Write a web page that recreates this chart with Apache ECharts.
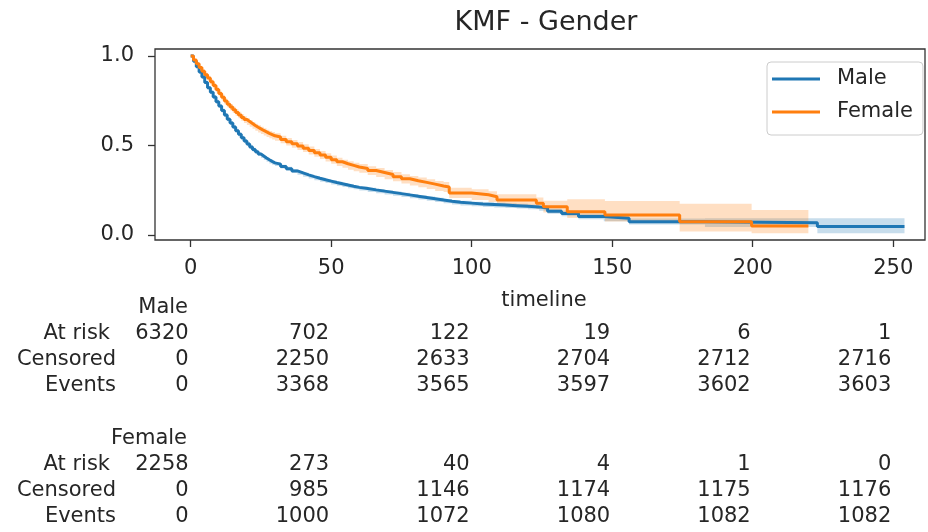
<!DOCTYPE html>
<html>
<head>
<meta charset="utf-8">
<script src="https://cdn.jsdelivr.net/npm/echarts@6/dist/echarts.min.js"></script>
<style>
  html, body { margin: 0; padding: 0; background: #fff; }
  #chart { width: 928px; height: 532px; }
</style>
</head>
<body>
<div id="chart"></div>
<script>
// KM estimates (steps-post)
var maleT  = [0, 1, 2, 3, 4, 5, 6, 7, 8, 9, 10, 11, 12, 13, 14, 15, 16, 17, 18, 19, 20, 21, 22, 23, 24, 25, 26, 27, 28, 29, 30,
              32, 34, 36, 38, 40, 42, 44, 46, 48, 50, 52, 54, 56, 58, 60, 63, 66, 69, 72, 75, 78, 81, 84, 87, 90, 93, 96, 100,
              104, 108, 112, 116, 120, 124, 127, 132, 138, 147, 156, 183, 223, 254];
var maleS  = [1, 0.970, 0.940, 0.910, 0.882, 0.852, 0.823, 0.797, 0.771, 0.745, 0.720, 0.695, 0.670, 0.647, 0.625, 0.603, 0.583, 0.563, 0.543, 0.525, 0.508, 0.492, 0.478, 0.465, 0.452, 0.441, 0.430, 0.420, 0.411, 0.403, 0.396,
              0.382, 0.370, 0.358, 0.347, 0.336, 0.326, 0.317, 0.309, 0.301, 0.293, 0.286, 0.279, 0.272, 0.266, 0.260, 0.252, 0.245, 0.238, 0.231, 0.224, 0.217, 0.210, 0.203, 0.196, 0.189, 0.183, 0.178, 0.173,
              0.170, 0.167, 0.164, 0.161, 0.157, 0.150, 0.132, 0.120, 0.103, 0.093, 0.074, 0.068, 0.047, 0.047];
var maleLo = [1, 0.963, 0.932, 0.901, 0.873, 0.842, 0.813, 0.787, 0.760, 0.734, 0.709, 0.684, 0.659, 0.636, 0.614, 0.592, 0.572, 0.552, 0.532, 0.514, 0.497, 0.481, 0.467, 0.454, 0.441, 0.430, 0.419, 0.409, 0.400, 0.392, 0.385,
              0.371, 0.359, 0.347, 0.336, 0.325, 0.315, 0.306, 0.298, 0.290, 0.282, 0.275, 0.268, 0.261, 0.255, 0.249, 0.240, 0.233, 0.226, 0.219, 0.212, 0.205, 0.198, 0.191, 0.184, 0.177, 0.170, 0.165, 0.160,
              0.157, 0.154, 0.151, 0.148, 0.144, 0.136, 0.118, 0.105, 0.088, 0.077, 0.058, 0.045, 0.010, 0.010];
var maleHi = [1, 0.977, 0.948, 0.919, 0.891, 0.862, 0.833, 0.807, 0.782, 0.756, 0.731, 0.706, 0.681, 0.658, 0.636, 0.614, 0.594, 0.574, 0.554, 0.536, 0.519, 0.503, 0.489, 0.476, 0.463, 0.452, 0.441, 0.431, 0.422, 0.414, 0.407,
              0.393, 0.381, 0.369, 0.358, 0.347, 0.337, 0.328, 0.320, 0.312, 0.304, 0.297, 0.290, 0.283, 0.277, 0.271, 0.264, 0.257, 0.250, 0.243, 0.236, 0.229, 0.222, 0.215, 0.208, 0.201, 0.196, 0.191, 0.186,
              0.183, 0.180, 0.177, 0.174, 0.170, 0.164, 0.146, 0.135, 0.118, 0.109, 0.092, 0.094, 0.093, 0.093];

var femaleT  = [0, 1, 2, 3, 4, 5, 6, 7, 8, 9, 10, 11, 12, 13, 14, 15, 16, 17, 18, 19, 20, 21, 22, 23, 24, 25, 26, 27, 28, 29, 30,
                32, 34, 36, 38, 40, 42, 44, 46, 48, 50, 52, 54, 56, 58, 60, 63, 66, 69, 72, 75, 78, 81, 84, 87, 90, 92, 100,
                106, 109, 123, 125.5, 134, 147.4, 174, 199.6, 219.8];
var femaleS  = [1, 0.978, 0.957, 0.936, 0.915, 0.895, 0.877, 0.856, 0.835, 0.813, 0.791, 0.769, 0.748, 0.731, 0.715, 0.699, 0.684, 0.670, 0.657, 0.645, 0.634, 0.623, 0.612, 0.602, 0.593, 0.584, 0.576, 0.568, 0.561, 0.554, 0.547,
                0.534, 0.521, 0.509, 0.497, 0.485, 0.472, 0.459, 0.447, 0.434, 0.421, 0.409, 0.398, 0.389, 0.380, 0.372, 0.360, 0.349, 0.338, 0.326, 0.314, 0.303, 0.294, 0.284, 0.274, 0.268, 0.235, 0.225,
                0.214, 0.196, 0.177, 0.158, 0.130, 0.112, 0.074, 0.050, 0.050];
var femaleLo = [1, 0.970, 0.947, 0.925, 0.903, 0.882, 0.863, 0.842, 0.820, 0.798, 0.775, 0.753, 0.731, 0.714, 0.697, 0.681, 0.666, 0.652, 0.638, 0.626, 0.615, 0.604, 0.593, 0.582, 0.573, 0.564, 0.556, 0.548, 0.540, 0.533, 0.526,
                0.513, 0.500, 0.487, 0.475, 0.463, 0.450, 0.437, 0.424, 0.411, 0.398, 0.386, 0.375, 0.365, 0.356, 0.348, 0.335, 0.324, 0.312, 0.300, 0.288, 0.276, 0.267, 0.257, 0.246, 0.240, 0.206, 0.196,
                0.184, 0.166, 0.146, 0.126, 0.095, 0.075, 0.020, 0.010, 0.010];
var femaleHi = [1, 0.985, 0.966, 0.946, 0.926, 0.907, 0.890, 0.870, 0.849, 0.828, 0.806, 0.785, 0.764, 0.748, 0.732, 0.717, 0.702, 0.688, 0.675, 0.664, 0.653, 0.642, 0.631, 0.621, 0.613, 0.604, 0.596, 0.588, 0.581, 0.575, 0.568,
                0.555, 0.542, 0.530, 0.519, 0.507, 0.494, 0.481, 0.469, 0.457, 0.444, 0.432, 0.421, 0.412, 0.404, 0.396, 0.384, 0.374, 0.363, 0.352, 0.340, 0.329, 0.321, 0.312, 0.302, 0.296, 0.264, 0.255,
                0.244, 0.227, 0.209, 0.191, 0.200, 0.190, 0.175, 0.140, 0.140];

// at-risk table
var tableTicks = [0, 50, 100, 150, 200, 250];
var maleAtRisk   = [6320, 702, 122, 19, 6, 1];
var maleCensored = [0, 2250, 2633, 2704, 2712, 2716];
var maleEvents   = [0, 3368, 3565, 3597, 3602, 3603];
var femaleAtRisk   = [2258, 273, 40, 4, 1, 0];
var femaleCensored = [0, 985, 1146, 1174, 1175, 1176];
var femaleEvents   = [0, 1000, 1072, 1080, 1082, 1082];

var xTicks = [0, 50, 100, 150, 200, 250];
var yTicks = [0, 0.5, 1.0];

var BLUE = '#1f77b4', ORANGE = '#ff7f0e';
var FONT = 'DejaVu Sans';
var TXT = '#262626';
var XMIN = -12.7, XMAX = 261.3;

var chart = echarts.init(document.getElementById('chart'));

function pairs(t, s) {
    var out = [];
    for (var i = 0; i < t.length; i++) out.push([t[i], s[i]]);
    return out;
}

function bandSeries(name, t, lo, hi, color) {
    return {
        name: name,
        type: 'custom',
        data: [[0, 1]],
        clip: true,
        silent: true,
        renderItem: function (params, api) {
            var top = [], bot = [];
            for (var i = 0; i < t.length - 1; i++) {
                top.push(api.coord([t[i], hi[i]]), api.coord([t[i + 1], hi[i]]));
                bot.push(api.coord([t[i], lo[i]]), api.coord([t[i + 1], lo[i]]));
            }
            return {
                type: 'polygon',
                shape: { points: top.concat(bot.reverse()) },
                style: { fill: color, opacity: 0.25 }
            };
        }
    };
}

function lineSeries(name, t, s, color) {
    return {
        name: name,
        type: 'line',
        step: 'end',
        data: pairs(t, s),
        symbol: 'none',
        showSymbol: false,
        lineStyle: { color: color, width: 3 },
        itemStyle: { color: color },
        animation: false
    };
}

function rowAxis(offset, vals) {
    return {
        type: 'value', min: XMIN, max: XMAX, position: 'bottom', offset: offset,
        axisLine: { show: false, onZero: false }, axisTick: { show: false }, splitLine: { show: false },
        axisLabel: {
            customValues: tableTicks,
            formatter: function (v) { return String(vals[tableTicks.indexOf(v)]); },
            align: 'right', verticalAlign: 'middle', margin: 0, padding: [0, 2, 0, 0],
            fontSize: 21, fontFamily: FONT, color: TXT
        }
    };
}

function txt(text, x, y, align, size) {
    return {
        type: 'text', x: x, y: y, silent: true,
        style: {
            text: text, fill: TXT, font: (size || 21) + 'px "' + FONT + '"',
            textAlign: align, align: align, textVerticalAlign: 'middle', verticalAlign: 'middle'
        }
    };
}

var option = {
    animation: false,
    grid: { left: 155, right: 3, top: 49, bottom: 292, show: true, borderColor: '#333', borderWidth: 1.3, backgroundColor: 'transparent' },
    legend: {
        data: [{ name: 'Male', icon: 'rect' }, { name: 'Female', icon: 'rect' }],
        orient: 'vertical', left: 767, top: 62,
        itemWidth: 48, itemHeight: 3, itemGap: 11,
        padding: [6, 10, 12, 5],
        borderColor: '#cccccc', borderWidth: 1, borderRadius: 4, backgroundColor: '#fff',
        textStyle: { fontSize: 21, fontFamily: FONT, color: TXT, lineHeight: 22, padding: [0, 0, 0, 12] }
    },
    xAxis: [{
        type: 'value', min: XMIN, max: XMAX,
        axisLine: { show: false, onZero: false },
        axisTick: { show: true, length: 7, customValues: xTicks, lineStyle: { color: '#333', width: 1.3 } },
        axisLabel: { customValues: xTicks, margin: 29, verticalAlign: 'middle', fontSize: 21, fontFamily: FONT, color: TXT },
        splitLine: { show: false }
    },
        rowAxis(94, maleAtRisk),
        rowAxis(120, maleCensored),
        rowAxis(145.5, maleEvents),
        rowAxis(225, femaleAtRisk),
        rowAxis(251, femaleCensored),
        rowAxis(277, femaleEvents)
    ],
    yAxis: {
        type: 'value', min: -0.028, max: 1.039,
        axisLine: { show: false, onZero: false },
        axisTick: { show: true, length: 7, customValues: yTicks, lineStyle: { color: '#333', width: 1.3 } },
        axisLabel: {
            customValues: yTicks, margin: 21, fontSize: 21, fontFamily: FONT, color: TXT,
            formatter: function (v) { return v.toFixed(1); }
        },
        splitLine: { show: false }
    },
    graphic: [
        txt('KMF - Gender', 546, 23, 'center', 27),
        txt('timeline', 544, 301, 'center'),
        txt('Male', 188, 308, 'right'),
        txt('At risk', 110, 334, 'right'),
        txt('Censored', 116, 360, 'right'),
        txt('Events', 116, 385.5, 'right'),
        txt('Female', 187, 439, 'right'),
        txt('At risk', 110, 465, 'right'),
        txt('Censored', 116, 491, 'right'),
        txt('Events', 116, 517, 'right')
    ],
    series: [
        lineSeries('Male', maleT, maleS, BLUE),
        bandSeries('Male CI', maleT, maleLo, maleHi, BLUE),
        lineSeries('Female', femaleT, femaleS, ORANGE),
        bandSeries('Female CI', femaleT, femaleLo, femaleHi, ORANGE)
    ]
};

chart.setOption(option);
</script>
</body>
</html>
